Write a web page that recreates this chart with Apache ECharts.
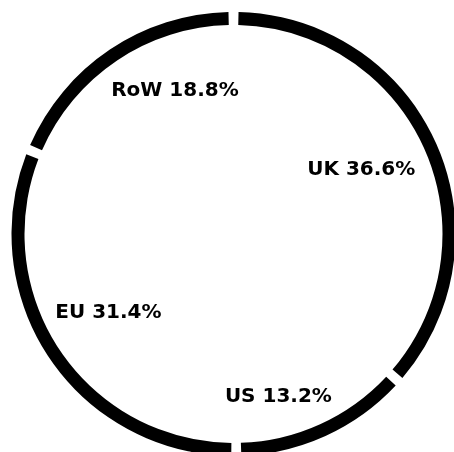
<!DOCTYPE html>
<html>
<head>
<meta charset="utf-8">
<script src="https://cdn.jsdelivr.net/npm/echarts@6/dist/echarts.min.js"></script>
<style>
html,body{margin:0;padding:0;background:#fff;}
#chart{width:454px;height:452px;}
</style>
</head>
<body>
<div id="chart"></div>
<script>
// Data (clockwise from top)
const categories = ['UK', 'US', 'EU', 'RoW'];
const shares = [36.6, 13.2, 31.4, 18.8];

// Label placement (polar: angle in degrees, distance in px from pie centre) — layout only
const labelAngles = [26.7, -74.6, 212.3, 112.2];
const labelDistances = [143, 169, 148, 155];

const CX = 233.5, CY = 234;

const chart = echarts.init(document.getElementById('chart'), null, {renderer: 'canvas'});
chart.setOption({
  animation: false,
  backgroundColor: '#ffffff',
  series: [{
    type: 'pie',
    center: [CX, CY],
    radius: [209, 222],
    startAngle: 90,
    clockwise: true,
    padAngle: 2.6,
    avoidLabelOverlap: false,
    itemStyle: {color: '#000000'},
    emphasis: {disabled: true},
    label: {
      show: true,
      position: 'inside',
      formatter: p => p.name + ' ' + p.value.toFixed(1) + '%',
      color: '#000000',
      fontFamily: 'DejaVu Sans',
      fontWeight: 'bold',
      fontSize: 20,
      align: 'center',
      verticalAlign: 'middle'
    },
    labelLine: {show: false},
    labelLayout: function (params) {
      const i = params.dataIndex;
      const a = labelAngles[i] * Math.PI / 180;
      return {
        x: CX + labelDistances[i] * Math.cos(a),
        y: CY - labelDistances[i] * Math.sin(a),
        align: 'center',
        verticalAlign: 'middle'
      };
    },
    data: categories.map((c, i) => ({name: c, value: shares[i]}))
  }]
});
</script>
</body>
</html>
